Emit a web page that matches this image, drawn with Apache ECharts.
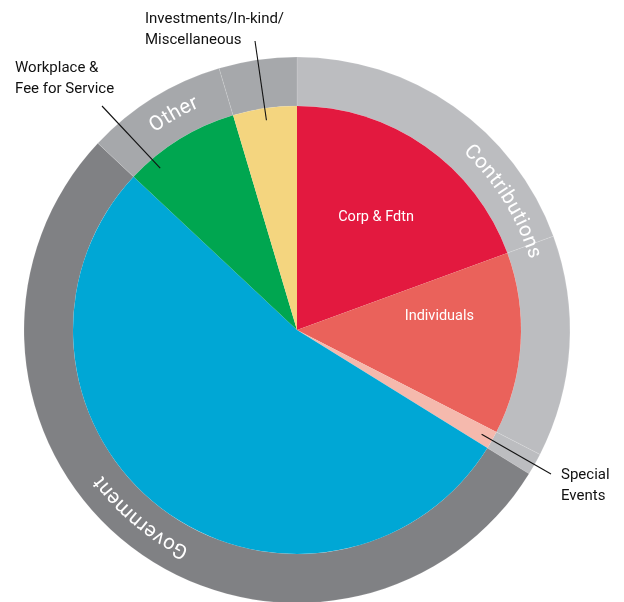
<!DOCTYPE html>
<html><head><meta charset="utf-8">
<script src="https://cdn.jsdelivr.net/npm/echarts@6/dist/echarts.min.js"></script>
<style>html,body{margin:0;padding:0;background:#fff}#c{width:624px;height:602px}</style>
</head><body><div id="c"></div>
<script>
// ---- data ----
const categories = ['Corp & Fdtn', 'Individuals', 'Special Events', 'Government', 'Workplace & Fee for Service', 'Investments/In-kind/Miscellaneous'];
const labelTexts = ['Corp & Fdtn', 'Individuals', 'Special\nEvents', 'Government', 'Workplace &\nFee for Service', 'Investments/In-kind/\nMiscellaneous'];
const values = [19.4, 13.1, 1.3, 53.1, 8.4, 4.6];
const groupOf = ['Contributions', 'Contributions', 'Contributions', 'Government', 'Other', 'Other'];
const groupNames = ['Contributions', 'Government', 'Other'];

// ---- style ----
const sliceColors = ['#e3193f', '#ea625b', '#f5b9ad', '#00a7d5', '#00a650', '#f4d57f'];
const groupColors = { Contributions: '#bcbdc0', Government: '#808184', Other: '#a6a8ab' };
const groupTextShift = { Contributions: -2.8, Government: 2.3, Other: -6.3 };
const CX = 297, CY = 330, R_IN = 224, R_OUT = 273;
const FONT = 'Roboto, "DejaVu Sans", sans-serif';

const total = values.reduce((a, b) => a + b, 0);
const startDeg = [];
let acc = 0;
values.forEach(v => { startDeg.push(acc / total * 360); acc += v; });
const spanDeg = values.map(v => v / total * 360);
const polar = (deg, r) => {
  const t = deg * Math.PI / 180;
  return [CX + r * Math.sin(t), CY - r * Math.cos(t)];
};

// inside label placement
const inside = { 0: { shift: 0, r: 138 }, 1: { shift: -9, r: 143 } };
// outside label placement (label anchor, leader end, anchor fraction within slice)
const outside = {
  2: { lx: 561, ly: 486, end: [551, 474], frac: 0.5 },
  4: { lx: 15, ly: 79, end: [102, 106], frac: 0.22 },
  5: { lx: 145, ly: 30, end: [255, 41], frac: 0.5 }
};

const pieData = values.map((v, i) => {
  const item = { name: categories[i], value: v, itemStyle: { color: sliceColors[i] } };
  if (inside[i]) {
    item.label = { show: true, position: 'inside', color: '#fff', fontSize: 14.5, fontFamily: FONT };
  } else if (outside[i]) {
    item.label = { show: true, position: 'outside', color: '#111', fontSize: 15, lineHeight: 21, fontFamily: FONT, align: 'left' };
  } else {
    item.label = { show: false };
  }
  item.labelLine = { show: false };
  return item;
});

const ringData = values.map((v, i) => ({
  name: groupOf[i], value: v,
  itemStyle: { color: groupColors[groupOf[i]] }
}));

// curved group labels + leader lines
function arcText(text, midDeg, r, font, spacing) {
  const ctx = document.createElement('canvas').getContext('2d');
  ctx.font = font;
  const chars = [...text];
  const ws = chars.map(ch => ctx.measureText(ch).width);
  const tot = ws.reduce((a, b) => a + b, 0) + spacing * (ws.length - 1);
  let s = -tot / 2;
  const els = [];
  ws.forEach((w, k) => {
    const c = s + w / 2;
    const th = midDeg * Math.PI / 180 + c / r;
    els.push({
      type: 'text', silent: true, z: 100,
      x: CX + r * Math.sin(th), y: CY - r * Math.cos(th), rotation: -th,
      style: { text: chars[k], font: font, fill: '#fff', align: 'center', verticalAlign: 'middle', textAlign: 'center', textVerticalAlign: 'middle' }
    });
    s += w + spacing;
  });
  return els;
}
const graphics = [];
groupNames.forEach(g => {
  let a0 = null, a1 = null;
  values.forEach((v, i) => {
    if (groupOf[i] === g) {
      if (a0 === null) a0 = startDeg[i];
      a1 = startDeg[i] + spanDeg[i];
    }
  });
  const mid = (a0 + a1) / 2 + groupTextShift[g];
  graphics.push(...arcText(g, mid, (R_IN + R_OUT) / 2, '400 20.5px ' + FONT, 0.6));
});
Object.keys(outside).forEach(k => {
  const i = +k, o = outside[k];
  const a = polar(startDeg[i] + spanDeg[i] * o.frac, 212);
  graphics.push({
    type: 'line', silent: true, z: 100,
    shape: { x1: a[0], y1: a[1], x2: o.end[0], y2: o.end[1] },
    style: { stroke: '#111', lineWidth: 1.1 }
  });
});

const chart = echarts.init(document.getElementById('c'), null, { renderer: 'canvas' });
chart.setOption({
  backgroundColor: '#fff',
  animation: false,
  series: [
    {
      type: 'pie', name: 'ring', center: [CX, CY], radius: [R_IN, R_OUT],
      startAngle: 90, clockwise: true, silent: true, avoidLabelOverlap: false,
      label: { show: false }, labelLine: { show: false },
      itemStyle: { borderColor: 'rgba(255,255,255,0.25)', borderWidth: 0.5 },
      data: ringData
    },
    {
      type: 'pie', name: 'sources', center: [CX, CY], radius: [0, R_IN],
      startAngle: 90, clockwise: true, avoidLabelOverlap: false,
      itemStyle: { borderWidth: 0 },
      label: { formatter: p => labelTexts[p.dataIndex] },
      data: pieData,
      labelLayout: function (params) {
        const i = params.dataIndex;
        const n = inside[i];
        if (n) {
          const p = polar(startDeg[i] + spanDeg[i] / 2 + n.shift, n.r);
          return { x: p[0], y: p[1], align: 'center', verticalAlign: 'middle' };
        }
        const o = outside[i];
        if (o) return { x: o.lx, y: o.ly, align: 'left', verticalAlign: 'middle' };
        return {};
      }
    }
  ],
  graphic: { elements: graphics }
});
</script>
</body></html>
